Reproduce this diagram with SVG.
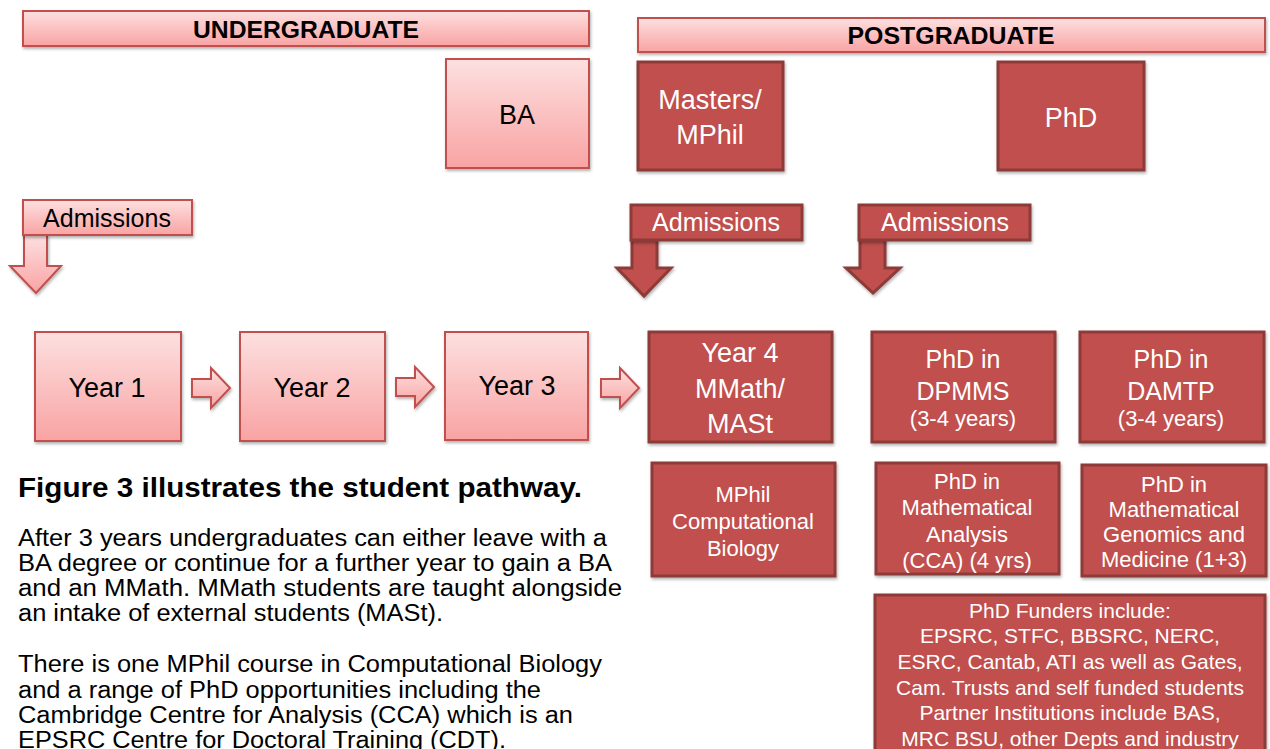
<svg xmlns="http://www.w3.org/2000/svg" width="1270" height="749" viewBox="0 0 1270 749">
<defs>
<linearGradient id="lg" x1="0" y1="0" x2="0" y2="1">
<stop offset="0" stop-color="#fde0e0"/>
<stop offset="1" stop-color="#f9a3a3"/>
</linearGradient>
<filter id="sh" x="-10%" y="-10%" width="130%" height="140%">
<feDropShadow dx="1" dy="2" stdDeviation="1.5" flood-color="#000" flood-opacity="0.3"/>
</filter>
<style>
.l{fill:url(#lg);stroke:#c0504d;stroke-width:2;filter:url(#sh)}
.d{fill:#c0504d;stroke:#8c3a38;stroke-width:3;filter:url(#sh)}
text{font-family:"Liberation Sans",Arial,sans-serif;text-anchor:middle}
.tb{fill:#000}
.tw{fill:#fff}
.h{font-weight:bold;font-size:24px}
.big{font-size:27px}
.med{font-size:25px}
.sm{font-size:22px}
.xs{font-size:21px}
.para{text-anchor:start;font-size:23px;fill:#000}
</style>
</defs>
<rect width="1270" height="749" fill="#fff"/>

<g id="undergraduate"><rect class="l" x="23" y="11" width="566" height="35"/><text class="tb h" x="306" y="38" textLength="226" lengthAdjust="spacingAndGlyphs">UNDERGRADUATE</text></g>
<g id="postgraduate"><rect class="l" x="638" y="18" width="627" height="34"/><text class="tb h" x="951" y="44" textLength="207" lengthAdjust="spacingAndGlyphs">POSTGRADUATE</text></g>
<g id="ba"><rect class="l" x="446" y="59" width="143" height="109"/><text class="tb big" x="517" y="124">BA</text></g>
<g id="masters"><rect class="d" x="638" y="62" width="145" height="108"/><text class="tw big" x="710" y="109">Masters/</text><text class="tw big" x="710" y="144">MPhil</text></g>
<g id="phd"><rect class="d" x="998" y="62" width="146" height="108"/><text class="tw big" x="1071" y="127">PhD</text></g>

<g id="connectors">
<path class="l" d="M24,235 H47 V266 H61 L36,293 L10,266 H24 Z"/>
<path class="d" d="M632,240 H657 V268 H671 L644,296 L617,268 H632 Z"/>
<path class="d" d="M860,240 H885 V268 H900 L873,293 L846,268 H860 Z"/>
<path class="l" d="M192,379 H211 V368 L230,388 L211,408 V397 H192 Z"/>
<path class="l" d="M396,378 H415 V367 L434,387 L415,407 V396 H396 Z"/>
<path class="l" d="M601,379 H620 V368 L639,388 L620,408 V397 H601 Z"/>
</g>

<g id="admissions-ug"><rect class="l" x="23" y="200" width="169" height="35"/><text class="tb med" x="107" y="227">Admissions</text></g>
<g id="admissions-masters"><rect class="d" x="631" y="205" width="171" height="35"/><text class="tw med" x="716" y="231">Admissions</text></g>
<g id="admissions-phd"><rect class="d" x="859" y="205" width="171" height="35"/><text class="tw med" x="945" y="231">Admissions</text></g>

<g id="year1"><rect class="l" x="35" y="332" width="146" height="109"/><text class="tb big" x="107" y="397">Year 1</text></g>
<g id="year2"><rect class="l" x="240" y="332" width="145" height="109"/><text class="tb big" x="312" y="397">Year 2</text></g>
<g id="year3"><rect class="l" x="445" y="332" width="143" height="108"/><text class="tb big" x="517" y="395">Year 3</text></g>
<g id="year4"><rect class="d" x="649" y="332" width="183" height="110"/><text class="tw big" x="740" y="362">Year 4</text><text class="tw big" x="740" y="398">MMath/</text><text class="tw big" x="740" y="433">MASt</text></g>
<g id="phd-dpmms"><rect class="d" x="872" y="332" width="183" height="110"/><text class="tw med" x="963" y="368">PhD in</text><text class="tw med" x="963" y="400">DPMMS</text><text class="tw sm" x="963" y="426">(3-4 years)</text></g>
<g id="phd-damtp"><rect class="d" x="1080" y="332" width="184" height="110"/><text class="tw med" x="1171" y="368">PhD in</text><text class="tw med" x="1171" y="400">DAMTP</text><text class="tw sm" x="1171" y="426">(3-4 years)</text></g>
<g id="mphil-cb"><rect class="d" x="652" y="463" width="183" height="113"/><text class="tw sm" x="743" y="502">MPhil</text><text class="tw sm" x="743" y="529">Computational</text><text class="tw sm" x="743" y="556">Biology</text></g>
<g id="phd-ma"><rect class="d" x="876" y="463" width="183" height="111"/><text class="tw sm" x="967" y="489">PhD in</text><text class="tw sm" x="967" y="515">Mathematical</text><text class="tw sm" x="967" y="542">Analysis</text><text class="tw sm" x="967" y="568">(CCA) (4 yrs)</text></g>
<g id="phd-mgm"><rect class="d" x="1082" y="465" width="184" height="111"/><text class="tw sm" x="1174" y="492">PhD in</text><text class="tw sm" x="1174" y="517">Mathematical</text><text class="tw sm" x="1174" y="542">Genomics and</text><text class="tw sm" x="1174" y="567">Medicine (1+3)</text></g>
<g id="funders"><rect class="d" x="875" y="595" width="390" height="170"/>
<text class="tw xs" x="1070" y="618">PhD Funders include:</text>
<text class="tw xs" x="1070" y="643">EPSRC, STFC, BBSRC, NERC,</text>
<text class="tw xs" x="1070" y="669">ESRC, Cantab, ATI as well as Gates,</text>
<text class="tw xs" x="1070" y="695">Cam. Trusts and self funded students</text>
<text class="tw xs" x="1070" y="720">Partner Institutions include BAS,</text>
<text class="tw xs" x="1070" y="746">MRC BSU, other Depts and industry</text>
</g>

<g id="caption">
<text class="para" x="18" y="497" style="font-weight:bold;font-size:27px" textLength="564" lengthAdjust="spacingAndGlyphs">Figure 3 illustrates the student pathway.</text>
<text class="para" x="18" y="546" textLength="589" lengthAdjust="spacingAndGlyphs">After 3 years undergraduates can either leave with a</text>
<text class="para" x="18" y="571" textLength="594" lengthAdjust="spacingAndGlyphs">BA degree or continue for a further year to gain a BA</text>
<text class="para" x="18" y="596" textLength="604" lengthAdjust="spacingAndGlyphs">and an MMath.  MMath students are taught alongside</text>
<text class="para" x="18" y="621" textLength="425" lengthAdjust="spacingAndGlyphs">an intake of external students (MASt).</text>
<text class="para" x="18" y="672" textLength="584" lengthAdjust="spacingAndGlyphs">There is one MPhil course in Computational Biology</text>
<text class="para" x="18" y="698" textLength="523" lengthAdjust="spacingAndGlyphs">and a range of PhD opportunities including the</text>
<text class="para" x="18" y="723" textLength="555" lengthAdjust="spacingAndGlyphs">Cambridge Centre for Analysis (CCA) which is an</text>
<text class="para" x="18" y="748" textLength="488" lengthAdjust="spacingAndGlyphs">EPSRC Centre for Doctoral Training (CDT).</text>
</g>
</svg>
